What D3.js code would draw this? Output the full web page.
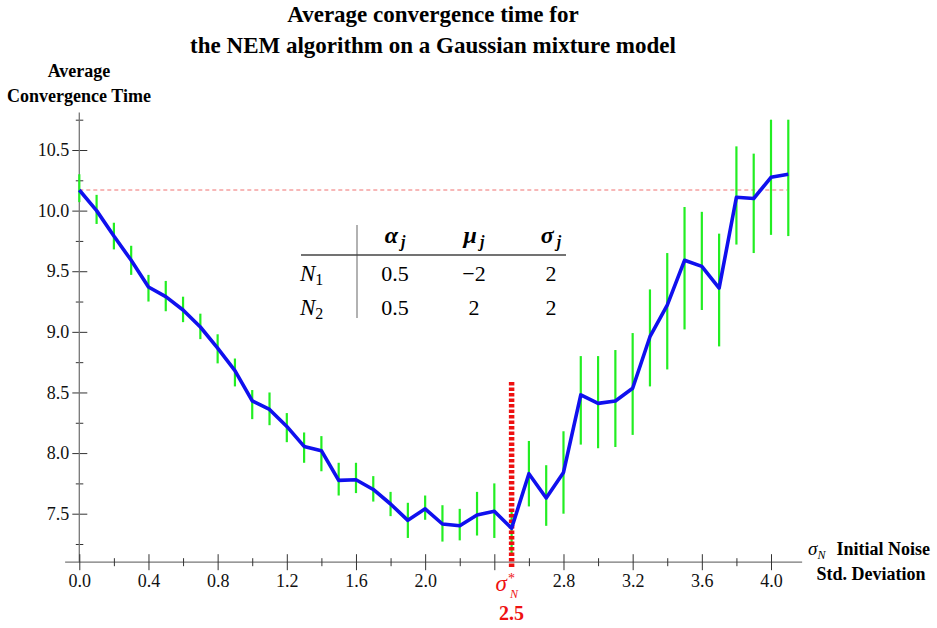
<!DOCTYPE html>
<html>
<head>
<meta charset="utf-8">
<script src="https://cdn.jsdelivr.net/npm/d3@7"></script>
<style>
  html, body { margin: 0; padding: 0; background: #fff; }
  svg { display: block; }
  text { font-family: "Liberation Serif", "Times New Roman", serif; }
</style>
</head>
<body>
<script>
// ---------------- data ----------------
const noiseSigma = [0.0,0.1,0.2,0.3,0.4,0.5,0.6,0.7,0.8,0.9,1.0,1.1,1.2,1.3,1.4,1.5,1.6,1.7,1.8,1.9,2.0,
  2.1,2.2,2.3,2.4,2.5,2.6,2.7,2.8,2.9,3.0,3.1,3.2,3.3,3.4,3.5,3.6,3.7,3.8,3.9,4.0,4.1];
const meanTime = [10.17,10.00,9.79,9.59,9.37,9.29,9.18,9.04,8.865,8.68,8.43,8.36,8.22,8.055,8.02,7.775,7.78,7.70,7.58,7.445,7.54,
  7.415,7.40,7.49,7.52,7.38,7.83,7.63,7.84,8.48,8.41,8.43,8.535,8.96,9.22,9.59,9.54,9.36,10.11,10.10,10.275,10.30];
const lowTime = [10.07,9.89,9.68,9.47,9.25,9.17,9.08,8.94,8.74,8.55,8.28,8.23,8.09,7.92,7.85,7.65,7.67,7.60,7.48,7.30,7.45,
  7.27,7.28,7.32,7.30,7.17,7.56,7.40,7.50,8.07,8.04,8.05,8.15,8.55,8.69,9.02,9.18,8.88,9.72,9.65,9.80,9.79];
const highTime = [10.30,10.13,9.90,9.71,9.47,9.42,9.29,9.15,8.98,8.78,8.52,8.50,8.33,8.17,8.14,7.92,7.92,7.81,7.68,7.59,7.65,
  7.57,7.54,7.68,7.75,7.52,8.10,7.90,8.18,8.80,8.80,8.85,8.99,9.35,9.65,10.03,9.99,9.81,10.53,10.47,10.75,10.75];
const optimalSigma = 2.5;
const baselineTime = meanTime[0];

const xMajorTicks = [0.0,0.4,0.8,1.2,1.6,2.0,2.4,2.8,3.2,3.6,4.0];
const xMinorTicks = [0.2,0.6,1.0,1.4,1.8,2.2,2.6,3.0,3.4,3.8];
const yMajorTicks = [7.5,8.0,8.5,9.0,9.5,10.0,10.5];
const yMinorTicks = [7.25,7.75,8.25,8.75,9.25,9.75,10.25,10.75];

const titleLines = ["Average convergence time for", "the NEM algorithm on a Gaussian mixture model"];
const yLabelLines = ["Average", "Convergence Time"];

const tableParams = ["α", "μ", "σ"];
const tableRows = ["1", "2"];
const alphaVals = ["0.5", "0.5"];
const muVals = ["−2", "2"];
const sigmaVals = ["2", "2"];

// ---------------- layout ----------------
const W = 937, H = 628;
const svg = d3.select("body").append("svg").attr("width", W).attr("height", H);

const x = d3.scaleLinear().domain([0, 4]).range([79.3, 771]);
const y = d3.scaleLinear().domain([7.5, 10.5]).range([513.7, 150]);
const xAxisY = y(7.1);
const axisColor = "#777";
const tickColor = "#333";

// title
svg.append("g").selectAll("text").data(titleLines).join("text")
  .attr("x", 433).attr("y", (d, i) => 22 + i * 31)
  .attr("text-anchor", "middle").attr("font-size", 23).attr("font-weight", "bold")
  .text(d => d);

// y label
svg.append("g").selectAll("text").data(yLabelLines).join("text")
  .attr("x", 79).attr("y", (d, i) => 77 + i * 25)
  .attr("text-anchor", "middle").attr("font-size", 18).attr("font-weight", "bold")
  .text(d => d);

// ---- axes ----
// y axis
const yAxisG = svg.append("g").attr("transform", `translate(${x(0)},0)`);
yAxisG.call(d3.axisLeft(y).tickValues(yMajorTicks).tickFormat(d3.format(".1f")).tickSize(7));
yAxisG.select(".domain").remove();
yAxisG.selectAll(".tick line").attr("x1", -7).attr("x2", 8).attr("stroke", tickColor);
yAxisG.selectAll(".tick text").attr("x", -10).attr("font-size", 18)
  .attr("font-family", "Liberation Serif, serif").attr("fill", "#111");
const yMinorG = svg.append("g").attr("transform", `translate(${x(0)},0)`);
yMinorG.call(d3.axisLeft(y).tickValues(yMinorTicks).tickFormat("").tickSize(4));
yMinorG.select(".domain").remove();
yMinorG.selectAll(".tick text").remove();
yMinorG.selectAll(".tick line").attr("x1", -3.5).attr("x2", 4).attr("stroke", tickColor);

svg.append("line").attr("x1", x(0)).attr("x2", x(0))
  .attr("y1", y(10.81)).attr("y2", xAxisY)
  .attr("stroke", axisColor).attr("stroke-width", 1.3);

// x axis
svg.append("line").attr("x1", x(-0.082)).attr("x2", x(4.18))
  .attr("y1", xAxisY).attr("y2", xAxisY)
  .attr("stroke", axisColor).attr("stroke-width", 1.3);

const xAxisG = svg.append("g").attr("transform", `translate(0,${xAxisY})`);
xAxisG.call(d3.axisBottom(x).tickValues(xMajorTicks)
  .tickFormat(d => Math.abs(d - 2.4) < 1e-9 ? "" : d3.format(".1f")(d)).tickSize(8));
xAxisG.select(".domain").remove();
xAxisG.selectAll(".tick text").filter(d => Math.abs(d - 2.4) < 1e-9).remove();
xAxisG.selectAll(".tick line").attr("y1", -8).attr("y2", 8).attr("stroke", tickColor);
xAxisG.selectAll(".tick text").attr("y", 12).attr("dy", "0.71em").attr("font-size", 18)
  .attr("font-family", "Liberation Serif, serif").attr("fill", "#111");
const xMinorG = svg.append("g").attr("transform", `translate(0,${xAxisY})`);
xMinorG.call(d3.axisBottom(x).tickValues(xMinorTicks).tickFormat("").tickSize(4));
xMinorG.select(".domain").remove();
xMinorG.selectAll(".tick text").remove();
xMinorG.selectAll(".tick line").attr("y1", -4).attr("y2", 4).attr("stroke", tickColor);

// x label
const xl = svg.append("g");
const xl1 = xl.append("text").attr("x", 808).attr("y", 555);
xl1.append("tspan").attr("font-size", 19).attr("font-style", "italic").text("σ");
xl1.append("tspan").attr("dy", 4).attr("font-size", 12).attr("font-style", "italic").text("N");
xl1.append("tspan").attr("dx", 11).attr("dy", -4).attr("font-size", 18).attr("font-weight", "bold").text("Initial Noise");
xl.append("text").attr("x", 871).attr("y", 580).attr("text-anchor", "middle").attr("font-size", 18).attr("font-weight", "bold").text("Std. Deviation");

// ---- reference lines ----
svg.append("line")
  .attr("x1", x(0)).attr("x2", x(4.1) - 1)
  .attr("y1", y(baselineTime)).attr("y2", y(baselineTime))
  .attr("stroke", "#f07070").attr("stroke-width", 1).attr("stroke-dasharray", "4,3");

// ---- error bars ----
svg.append("g").selectAll("line").data(noiseSigma).join("line")
  .attr("x1", d => x(d)).attr("x2", d => x(d))
  .attr("y1", (d, i) => y(lowTime[i])).attr("y2", (d, i) => y(highTime[i]))
  .attr("stroke", "#22ee22").attr("stroke-width", 2.2);

// optimal noise vertical line
svg.append("line")
  .attr("x1", x(optimalSigma)).attr("x2", x(optimalSigma))
  .attr("y1", 382).attr("y2", 569)
  .attr("stroke", "#ee1111").attr("stroke-width", 5.5).attr("stroke-dasharray", "3.5,2");

// ---- mean line ----
const line = d3.line().x((d, i) => x(noiseSigma[i])).y(d => y(d));
svg.append("path").datum(meanTime)
  .attr("d", line).attr("fill", "none")
  .attr("stroke", "#1010ee").attr("stroke-width", 3.6).attr("stroke-linejoin", "round");

// optimal sigma label (single text element: σ with * superscript and N subscript)
const ol = svg.append("g").attr("fill", "#ee1111");
const ox = x(optimalSigma);
const st = ol.append("text").attr("x", ox - 16).attr("y", 591);
st.append("tspan").attr("font-size", 23).attr("font-style", "italic").text("σ");
st.append("tspan").attr("dx", 1).attr("dy", -8).attr("font-size", 14).text("*");
st.append("tspan").attr("dx", -5).attr("dy", 15).attr("font-size", 12).attr("font-style", "italic").text("N");
ol.append("text").attr("x", ox).attr("y", 620).attr("text-anchor", "middle")
  .attr("font-size", 20).attr("font-weight", "bold").text(optimalSigma.toFixed(1));

// ---- parameter table ----
const tg = svg.append("g");
const colX = [395, 474, 551];
tg.append("line").attr("x1", 357).attr("x2", 357).attr("y1", 225).attr("y2", 318)
  .attr("stroke", "#999").attr("stroke-width", 1.5);
tg.append("line").attr("x1", 301).attr("x2", 566).attr("y1", 255).attr("y2", 255)
  .attr("stroke", "#444").attr("stroke-width", 1.3);
tableParams.forEach((p, j) => {
  const t = tg.append("text").attr("x", colX[j]).attr("y", 243).attr("text-anchor", "middle")
    .attr("font-size", 24).attr("font-weight", "bold").attr("font-style", "italic");
  t.append("tspan").text(p);
  t.append("tspan").attr("dx", 3).attr("dy", 4).attr("font-size", 16).text("j");
});
const colVals = [alphaVals, muVals, sigmaVals];
tableRows.forEach((r, i) => {
  const by = 281 + i * 34;
  const t = tg.append("text").attr("x", 300).attr("y", by).attr("font-size", 23).attr("font-style", "italic");
  t.append("tspan").text("N");
  t.append("tspan").attr("dy", 4).attr("font-size", 16).attr("font-style", "normal").text(r);
  colVals.forEach((vals, j) => {
    tg.append("text").attr("x", colX[j]).attr("y", by).attr("text-anchor", "middle")
      .attr("font-size", 22).text(vals[i]);
  });
});
</script>
</body>
</html>
